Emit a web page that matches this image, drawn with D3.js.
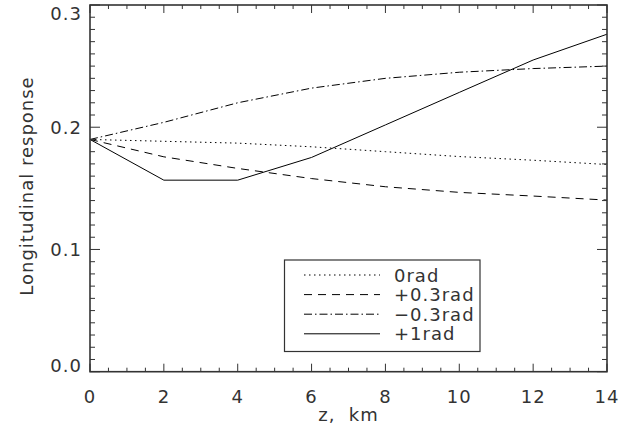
<!DOCTYPE html>
<html><head><meta charset="utf-8">
<script src="https://cdn.jsdelivr.net/npm/d3@7"></script>
<style>
body{margin:0;background:#fff;}
text{font-family:"DejaVu Sans",sans-serif;fill:#333;letter-spacing:1px;}
</style></head>
<body><svg id="c" width="639" height="439"></svg>
<script>
const z = [0, 2, 4, 6, 8, 10, 12, 14];
const rad0   = [0.190, 0.1885, 0.187, 0.184, 0.180, 0.176, 0.173, 0.1695];
const radP03 = [0.190, 0.1758, 0.1663, 0.158, 0.1513, 0.1467, 0.1437, 0.1404];
const radM03 = [0.190, 0.204, 0.220, 0.232, 0.240, 0.245, 0.248, 0.250];
const radP1  = [0.190, 0.1567, 0.1567, 0.1753, 0.2019, 0.2285, 0.2550, 0.2761];
const seriesNames = ["0rad", "+0.3rad", "\u22120.3rad", "+1rad"];
const xTicks = [0, 2, 4, 6, 8, 10, 12, 14];
const yTicks = [0.0, 0.1, 0.2, 0.3];

const svg = d3.select("#c");
const L = 90, R = 607, T = 5, B = 371.7;
const x = d3.scaleLinear().domain([0, 14]).range([L, R]);
const y = d3.scaleLinear().domain([0, 0.3]).range([B, T]);

const series = [
  {name: seriesNames[0], v: rad0, dash: "1.5,3.5"},
  {name: seriesNames[1], v: radP03, dash: "8,6"},
  {name: seriesNames[2], v: radM03, dash: "8,3,1.5,3"},
  {name: seriesNames[3], v: radP1, dash: null}
];

const line = d3.line().x((d, i) => x(z[i])).y(d => y(d));
series.forEach(s => {
  svg.append("path").attr("d", line(s.v)).attr("fill", "none")
    .attr("stroke", "#000").attr("stroke-width", 1)
    .attr("stroke-dasharray", s.dash);
});

// frame
const ax = "#333";
svg.append("rect").attr("x", L).attr("y", T).attr("width", R - L).attr("height", B - T)
  .attr("fill", "none").attr("stroke", ax).attr("stroke-width", 1.6);

// ticks
const xMinor = d3.range(0, 14.001, 0.5);
xMinor.forEach(t => {
  const major = Math.abs(t / 2 - Math.round(t / 2)) < 1e-6;
  const len = major ? 8 : 4;
  svg.append("line").attr("x1", x(t)).attr("x2", x(t)).attr("y1", B).attr("y2", B - len).attr("stroke", ax);
  svg.append("line").attr("x1", x(t)).attr("x2", x(t)).attr("y1", T).attr("y2", T + len).attr("stroke", ax);
});
const yMinor = d3.range(0, 0.3001, 0.01);
yMinor.forEach(t => {
  const major = Math.abs(t * 10 - Math.round(t * 10)) < 1e-6;
  const len = major ? 10 : 5;
  svg.append("line").attr("x1", L).attr("x2", L + len).attr("y1", y(t)).attr("y2", y(t)).attr("stroke", ax);
  svg.append("line").attr("x1", R).attr("x2", R - len).attr("y1", y(t)).attr("y2", y(t)).attr("stroke", ax);
});

// tick labels
xTicks.forEach(t => {
  svg.append("text").attr("x", x(t)).attr("y", 403).attr("text-anchor", "middle")
    .attr("font-size", 18).text(d3.format("d")(t));
});
yTicks.forEach(t => {
  const base = Math.min(Math.max(y(t) + 7, 20), 372);
  svg.append("text").attr("x", 82).attr("y", base).attr("text-anchor", "end")
    .attr("font-size", 18).text(d3.format(".1f")(t));
});

// axis titles
svg.append("text").attr("x", (L + R) / 2).attr("y", 421).attr("text-anchor", "middle")
  .attr("font-size", 18).attr("xml:space", "preserve").text("z,  km");
svg.append("text").attr("transform", `translate(33,186) rotate(-90)`)
  .attr("text-anchor", "middle").attr("font-size", 18).text("Longitudinal response");

// legend
const lg = svg.append("g");
lg.append("rect").attr("x", 284.5).attr("y", 260).attr("width", 195.5).attr("height", 91.5)
  .attr("fill", "#fff").attr("stroke", ax).attr("stroke-width", 1.2);
series.forEach((s, i) => {
  const yy = 275 + i * 19.6;
  lg.append("line").attr("x1", 304).attr("x2", 380).attr("y1", yy).attr("y2", yy)
    .attr("stroke", "#000").attr("stroke-dasharray", s.dash);
  lg.append("text").attr("x", 394).attr("y", yy + 6.5).attr("font-size", 18).text(s.name);
});
</script></body></html>
